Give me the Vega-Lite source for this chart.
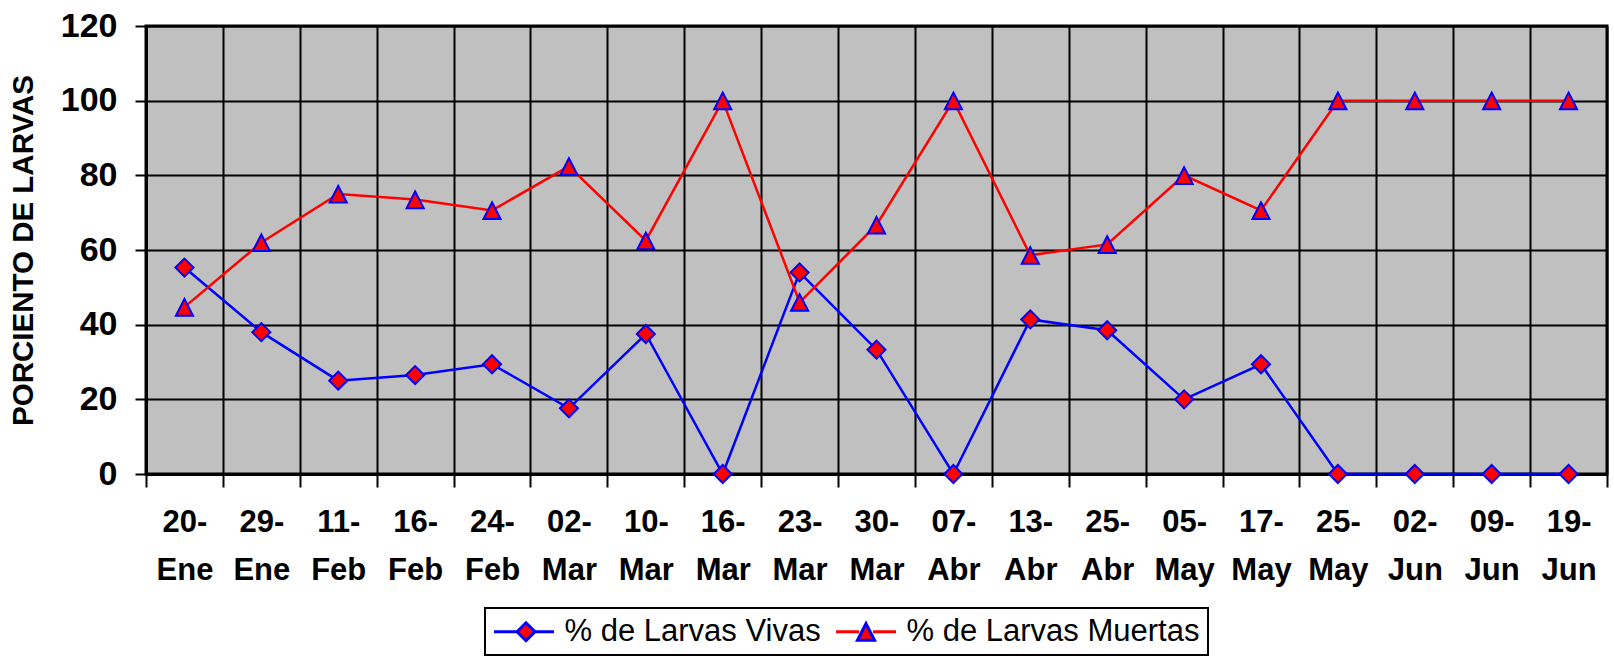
{
  "$schema": "https://vega.github.io/schema/vega-lite/v6.json",
  "width": 1461,
  "height": 448,
  "autosize": {"type": "none"},
  "padding": {"left": 146, "top": 26, "right": 7, "bottom": 185},
  "background": "white",
  "config": {
    "font": "Liberation Sans",
    "view": {"fill": "#C0C0C0", "stroke": "#000000", "strokeWidth": 3}
  },
  "data": {
    "values": [
      {"fecha": "20-Ene", "serie": "% de Larvas Vivas", "valor": 55.3},
      {"fecha": "29-Ene", "serie": "% de Larvas Vivas", "valor": 38},
      {"fecha": "11-Feb", "serie": "% de Larvas Vivas", "valor": 25},
      {"fecha": "16-Feb", "serie": "% de Larvas Vivas", "valor": 26.5},
      {"fecha": "24-Feb", "serie": "% de Larvas Vivas", "valor": 29.4},
      {"fecha": "02-Mar", "serie": "% de Larvas Vivas", "valor": 17.6},
      {"fecha": "10-Mar", "serie": "% de Larvas Vivas", "valor": 37.5},
      {"fecha": "16-Mar", "serie": "% de Larvas Vivas", "valor": 0},
      {"fecha": "23-Mar", "serie": "% de Larvas Vivas", "valor": 54},
      {"fecha": "30-Mar", "serie": "% de Larvas Vivas", "valor": 33.3},
      {"fecha": "07-Abr", "serie": "% de Larvas Vivas", "valor": 0},
      {"fecha": "13-Abr", "serie": "% de Larvas Vivas", "valor": 41.4},
      {"fecha": "25-Abr", "serie": "% de Larvas Vivas", "valor": 38.5},
      {"fecha": "05-May", "serie": "% de Larvas Vivas", "valor": 20},
      {"fecha": "17-May", "serie": "% de Larvas Vivas", "valor": 29.4},
      {"fecha": "25-May", "serie": "% de Larvas Vivas", "valor": 0},
      {"fecha": "02-Jun", "serie": "% de Larvas Vivas", "valor": 0},
      {"fecha": "09-Jun", "serie": "% de Larvas Vivas", "valor": 0},
      {"fecha": "19-Jun", "serie": "% de Larvas Vivas", "valor": 0},
      {"fecha": "20-Ene", "serie": "% de Larvas Muertas", "valor": 44.7},
      {"fecha": "29-Ene", "serie": "% de Larvas Muertas", "valor": 62},
      {"fecha": "11-Feb", "serie": "% de Larvas Muertas", "valor": 75},
      {"fecha": "16-Feb", "serie": "% de Larvas Muertas", "valor": 73.5},
      {"fecha": "24-Feb", "serie": "% de Larvas Muertas", "valor": 70.6},
      {"fecha": "02-Mar", "serie": "% de Larvas Muertas", "valor": 82.4},
      {"fecha": "10-Mar", "serie": "% de Larvas Muertas", "valor": 62.5},
      {"fecha": "16-Mar", "serie": "% de Larvas Muertas", "valor": 100},
      {"fecha": "23-Mar", "serie": "% de Larvas Muertas", "valor": 46},
      {"fecha": "30-Mar", "serie": "% de Larvas Muertas", "valor": 66.7},
      {"fecha": "07-Abr", "serie": "% de Larvas Muertas", "valor": 100},
      {"fecha": "13-Abr", "serie": "% de Larvas Muertas", "valor": 58.6},
      {"fecha": "25-Abr", "serie": "% de Larvas Muertas", "valor": 61.5},
      {"fecha": "05-May", "serie": "% de Larvas Muertas", "valor": 80},
      {"fecha": "17-May", "serie": "% de Larvas Muertas", "valor": 70.6},
      {"fecha": "25-May", "serie": "% de Larvas Muertas", "valor": 100},
      {"fecha": "02-Jun", "serie": "% de Larvas Muertas", "valor": 100},
      {"fecha": "09-Jun", "serie": "% de Larvas Muertas", "valor": 100},
      {"fecha": "19-Jun", "serie": "% de Larvas Muertas", "valor": 100}
    ]
  },
  "encoding": {
    "x": {
      "field": "fecha",
      "type": "ordinal",
      "sort": ["20-Ene", "29-Ene", "11-Feb", "16-Feb", "24-Feb", "02-Mar", "10-Mar", "16-Mar", "23-Mar", "30-Mar", "07-Abr", "13-Abr", "25-Abr", "05-May", "17-May", "25-May", "02-Jun", "09-Jun", "19-Jun"],
      "scale": {"paddingInner": 0, "paddingOuter": 0},
      "axis": {
        "title": null,
        "tickBand": "extent",
        "labelAngle": 0,
        "labelExpr": "indexof(datum.label + '', '-') > 0 ? [split(datum.label,'-')[0] + '-', split(datum.label,'-')[1]] : ''",
        "labelFont": "Liberation Sans",
        "labelFontSize": 31,
        "labelFontWeight": "bold",
        "labelColor": "#000000",
        "labelLineHeight": 48,
        "labelBaseline": "top",
        "labelPadding": 20,
        "labelLimit": 0,
        "domainColor": "#000000",
        "domainWidth": 3,
        "tickColor": "#000000",
        "tickWidth": 2,
        "tickSize": 13,
        "grid": true,
        "gridColor": "#000000",
        "gridWidth": 2,
        "gridOpacity": 1
      }
    },
    "y": {
      "field": "valor",
      "type": "quantitative",
      "scale": {"domain": [0, 120], "nice": false},
      "axis": {
        "title": "PORCIENTO DE LARVAS",
        "titleFont": "Liberation Sans",
        "titleFontSize": 29.5,
        "titleFontWeight": "bold",
        "titleColor": "#000000",
        "titleAngle": 270,
        "titleAlign": "center",
        "titleBaseline": "middle",
        "titleX": -123,
        "titleY": 224,
        "values": [0, 20, 40, 60, 80, 100, 120],
        "labelFont": "Liberation Sans",
        "labelFontSize": 34,
        "labelFontWeight": "bold",
        "labelColor": "#000000",
        "labelPadding": 18,
        "domainColor": "#000000",
        "domainWidth": 3,
        "tickColor": "#000000",
        "tickWidth": 2,
        "tickSize": 11,
        "grid": true,
        "gridColor": "#000000",
        "gridWidth": 2,
        "gridOpacity": 1
      }
    }
  },
  "layer": [
    {
      "mark": {"type": "line", "strokeWidth": 2.5},
      "encoding": {
        "order": {"value": null},
        "color": {
          "field": "serie",
          "type": "nominal",
          "scale": {"domain": ["% de Larvas Vivas", "% de Larvas Muertas"], "range": ["#0000FF", "#FF0000"]},
          "legend": {
            "orient": "none",
            "legendX": 339,
            "legendY": 582,
            "direction": "horizontal",
            "title": null,
            "padding": 8,
            "strokeColor": "#000000",
            "symbolType": "M-2.14,0H-0.5M0.5,0H2.14",
            "symbolSize": 784,
            "symbolStrokeWidth": 3,
            "symbolOffset": 15.5,
            "labelFont": "Liberation Sans",
            "labelFontSize": 31,
            "labelFontWeight": "normal",
            "labelColor": "#000000",
            "labelOffset": 25,
            "labelLimit": 0,
            "columnPadding": 9,
            "encode": {
              "legend": {"update": {"strokeWidth": {"value": 2}}},
              "symbols": {"update": {"fill": {"value": "transparent"}, "strokeWidth": {"value": 3}, "opacity": {"value": 1}}}
            }
          }
        }
      }
    },
    {
      "mark": {"type": "point", "filled": true, "fill": "#FF0000", "stroke": "#0000FF", "strokeWidth": 2, "size": 324, "opacity": 1},
      "encoding": {
        "shape": {
          "field": "serie",
          "type": "nominal",
          "sort": ["% de Larvas Vivas", "% de Larvas Muertas"],
          "scale": {"range": ["diamond", "M0,-0.9L0.95,0.95L-0.95,0.95Z"]},
          "legend": {
            "orient": "none",
            "legendX": 339,
            "legendY": 582,
            "direction": "horizontal",
            "title": null,
            "padding": 8,
            "symbolSize": 324,
            "symbolStrokeWidth": 3,
            "symbolOffset": 17.5,
            "labelFont": "Liberation Sans",
            "labelFontSize": 31,
            "labelExpr": "''",
            "labelOffset": 25,
            "labelLimit": 0,
            "columnPadding": 266,
            "encode": {
              "symbols": {
                "update": {
                  "fill": {"value": "#FF0000"},
                  "stroke": {"value": "#0000FF"},
                  "strokeWidth": {"value": 2},
                  "opacity": {"value": 1}
                }
              }
            }
          }
        }
      }
    }
  ]
}
